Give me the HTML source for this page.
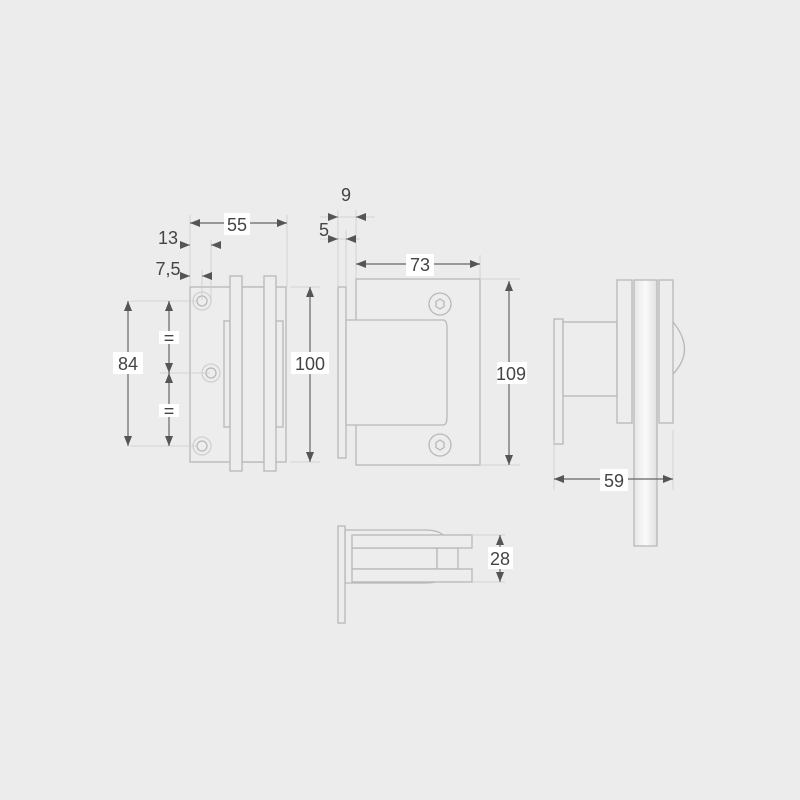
<!DOCTYPE html>
<html><head><style>body{margin:0;background:#ececec}svg{display:block}text{font-family:"Liberation Sans",sans-serif;font-size:18px;fill:#444;text-anchor:middle}</style></head>
<body>
<svg width="800" height="800" viewBox="0 0 800 800">
<defs>
<marker id="a" viewBox="0 0 10 10" refX="10" refY="5" markerWidth="10" markerHeight="10" markerUnits="userSpaceOnUse" orient="auto-start-reverse"><path d="M0,1 L10,5 L0,9z" fill="#555"/></marker>
<linearGradient id="g" x1="0" x2="1"><stop offset="0" stop-color="#e6e6e6"/><stop offset=".5" stop-color="#fafafa"/><stop offset="1" stop-color="#e0e0e0"/></linearGradient>
</defs>
<rect width="800" height="800" fill="#ececec"/>
<g fill="#ededed" stroke="#b8b8b8" stroke-width="1.3">
<!-- left view -->
<rect x="190" y="287" width="96" height="175"/>
<rect x="224" y="321" width="6" height="106"/>
<rect x="276" y="321" width="7" height="106"/>
<rect x="242" y="287" width="22" height="175"/>
<rect x="230" y="276" width="12" height="195"/>
<rect x="264" y="276" width="12" height="195"/>
<circle cx="202" cy="301" r="9" stroke="#d0d0d0"/><circle cx="202" cy="301" r="5"/>
<circle cx="211" cy="373" r="9" stroke="#d0d0d0"/><circle cx="211" cy="373" r="5"/>
<circle cx="202" cy="446" r="9" stroke="#d0d0d0"/><circle cx="202" cy="446" r="5"/>
<!-- middle -->
<rect x="338" y="287" width="8" height="171"/>
<rect x="356" y="279" width="124" height="186"/>
<path d="M346,320 H443 Q447,320 447,328 V417 Q447,425 443,425 H346 Z"/>
<circle cx="440" cy="304" r="11"/><polygon points="440,299 444,301.5 444,306.5 440,309 436,306.5 436,301.5"/>
<circle cx="440" cy="445" r="11"/><polygon points="440,440 444,442.5 444,447.5 440,450 436,447.5 436,442.5"/>
<!-- right view -->
<rect x="554" y="319" width="9" height="125"/>
<rect x="563" y="322" width="54" height="74"/>
<rect x="634" y="280" width="23" height="266" fill="url(#g)"/>
<rect x="617" y="280" width="15" height="143"/>
<rect x="659" y="280" width="14" height="143"/>
<path d="M673,322 Q696,350 673,374" fill="none"/>
<!-- bottom view -->
<path d="M345,530 H425 Q440,530 445,537 V576 Q440,583 425,583 H345 Z"/>
<rect x="338" y="526" width="7" height="97"/>
<rect x="352" y="548" width="85" height="21"/>
<rect x="437" y="548" width="21" height="21"/>
<rect x="352" y="535" width="120" height="13"/>
<rect x="352" y="569" width="120" height="13"/>
</g>
<g stroke="#ccc" stroke-width="0.8" fill="none">
<path d="M190,215V287M287,215V287M211,240V300M202,270V300M130,301H196M130,446H196M160,373H210M290,287H320M290,462H320M338,210V287M346,230V287M356,210V279M356,255V279M480,255V279M480,279H520M480,465H520M554,440V490M673,430V490M472,535H505M472,582H505M320,217H375M320,239H360"/>
</g>
<g stroke="#666" stroke-width="1.2" fill="none" marker-start="url(#a)" marker-end="url(#a)">
<line x1="128" y1="301" x2="128" y2="446"/>
<line x1="169" y1="301" x2="169" y2="373"/>
<line x1="169" y1="373" x2="169" y2="446"/>
<line x1="310" y1="287" x2="310" y2="462"/>
<line x1="190" y1="223" x2="287" y2="223"/>
<line x1="356" y1="264" x2="480" y2="264"/>
<line x1="509" y1="281" x2="509" y2="465"/>
<line x1="554" y1="479" x2="673" y2="479"/>
<line x1="500" y1="535" x2="500" y2="582"/>
</g>
<g stroke="#666" stroke-width="1" marker-end="url(#a)">
<line x1="180" y1="245" x2="190" y2="245"/><line x1="221" y1="245" x2="211" y2="245"/>
<line x1="180" y1="276" x2="190" y2="276"/><line x1="212" y1="276" x2="202" y2="276"/>
<line x1="328" y1="217" x2="338" y2="217"/><line x1="366" y1="217" x2="356" y2="217"/>
<line x1="328" y1="239" x2="338" y2="239"/><line x1="356" y1="239" x2="346" y2="239"/>
</g>
<g fill="#fff">
<rect x="113" y="352" width="30" height="22"/><rect x="159" y="331" width="20" height="13"/><rect x="159" y="404" width="20" height="13"/>
<rect x="291" y="352" width="38" height="22"/><rect x="224" y="213" width="26" height="22"/>
<rect x="406" y="254" width="28" height="22"/><rect x="497" y="362" width="30" height="22"/>
<rect x="600" y="469" width="28" height="22"/><rect x="488" y="547" width="25" height="22"/>
</g>
<text x="128" y="370">84</text><text x="169" y="344">=</text><text x="169" y="417">=</text>
<text x="310" y="370">100</text><text x="237" y="231">55</text>
<text x="168" y="244">13</text><text x="168" y="275">7,5</text>
<text x="346" y="201">9</text><text x="324" y="236">5</text>
<text x="420" y="271">73</text><text x="511" y="380">109</text>
<text x="614" y="487">59</text><text x="500" y="565">28</text>
</svg>
</body></html>
